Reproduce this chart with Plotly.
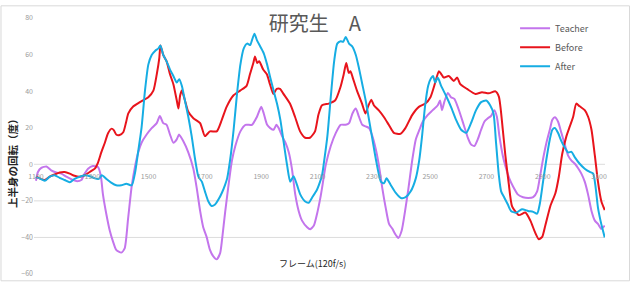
import plotly.graph_objects as go

# ---- data (frame number, rotation in degrees) ----
teacher_f = [1100, 1107, 1119, 1137, 1154, 1172, 1190, 1208, 1225, 1243, 1261, 1273, 1285, 1302, 1320, 1330,
             1338, 1350, 1362, 1374, 1385, 1403, 1415, 1427, 1440, 1452, 1463, 1475, 1493, 1511, 1529, 1540,
             1552, 1564, 1576, 1588, 1600, 1608, 1623, 1641, 1659, 1671, 1683, 1694, 1706, 1718, 1730, 1742,
             1754, 1761, 1772, 1785, 1796, 1808, 1826, 1844, 1867, 1885, 1900, 1909, 1921, 1932, 1944, 1954,
             1962, 1974, 1986, 1998, 2009, 2021, 2033, 2045, 2063, 2074, 2087, 2098, 2110, 2117, 2129, 2147,
             2165, 2182, 2200, 2212, 2224, 2236, 2247, 2259, 2271, 2283, 2293, 2307, 2318, 2330, 2342, 2354,
             2366, 2375, 2387, 2399, 2411, 2423, 2437, 2449, 2462, 2474, 2491, 2509, 2527, 2535, 2542, 2550,
             2563, 2574, 2586, 2598, 2610, 2621, 2634, 2645, 2657, 2669, 2681, 2693, 2705, 2716, 2728, 2737,
             2746, 2758, 2770, 2781, 2794, 2812, 2830, 2848, 2866, 2880, 2889, 2901, 2913, 2925, 2934, 2943,
             2954, 2966, 2978, 2990, 3002, 3014, 3025, 3037, 3049, 3061, 3073, 3085, 3096, 3108, 3120]
teacher_v = [-9, -4.2, -2, -1.2, -3.3, -4.5, -5.1, -6.8, -8.1, -9.2, -8.6, -5.1, -2.4, -1, -1.5, -6,
             -16.6, -27.3, -36.2, -42.4, -46.8, -48.3, -46, -30, -12, -1, 6.5, 11.8, 16.3, 19.8, 22.5, 26.4,
             22.5, 21.6, 16.3, 11.8, 13.6, 16.3, 12.7, 6.5, -2.4, -13, -25.5, -34.4, -39.7, -46.8, -50.4, -52,
             -48.6, -41, -26, -10, 2, 10, 18, 21.6, 21.6, 26, 31.4, 27.8, 21.6, 19.8, 18.9, 21.6,
             19.8, 15.4, 11.8, 6.5, -2.4, -16.6, -25.5, -30.8, -34.4, -35.5, -33.5, -27.3, -18.4, -12, -0.6, 10,
             17.2, 21.6, 21.6, 22.5, 27.8, 30.5, 26, 21.6, 20.7, 19.8, 16.3, 8.3, -0.6, -13, -23.7, -32.6,
             -35.3, -37.9, -40.3, -36.2, -25.5, -13, 2.9, 13.6, 18.9, 23.4, 26.9, 29.6, 32.3, 34.9, 29.6, 34,
             39, 36.7, 35.8, 31.4, 26, 20.7, 14.5, 10.9, 10, 13.6, 18.9, 23.4, 25.2, 26.4, 29.6, 26,
             15.4, 4.7, -2.4, -7.7, -12, -16.6, -18, -18.4, -18, -14.8, -7.7, 2.9, 11.8, 18.9, 24.3, 25.7,
             23.4, 17.2, 10.9, 4.7, 2, 0.3, -2, -5.1, -9.5, -16.6, -25.5, -30.8, -32.6, -35.3, -33.5]

before_f = [1100, 1113, 1131, 1149, 1166, 1184, 1202, 1220, 1237, 1255, 1273, 1291, 1309, 1320, 1332, 1344,
            1356, 1369, 1377, 1385, 1397, 1410, 1420, 1428, 1446, 1469, 1499, 1517, 1529, 1538, 1542, 1552,
            1564, 1576, 1588, 1600, 1606, 1612, 1618, 1629, 1641, 1659, 1683, 1700, 1718, 1742, 1760, 1777,
            1801, 1825, 1848, 1860, 1872, 1878, 1886, 1893, 1907, 1920, 1931, 1943, 1955, 1967, 1979, 2002,
            2020, 2038, 2056, 2073, 2091, 2103, 2116, 2140, 2163, 2181, 2193, 2202, 2211, 2217, 2225, 2240,
            2258, 2270, 2279, 2291, 2300, 2317, 2335, 2353, 2371, 2394, 2412, 2436, 2460, 2483, 2501, 2518,
            2531, 2540, 2548, 2566, 2584, 2596, 2607, 2631, 2661, 2684, 2708, 2732, 2744, 2758, 2767, 2779,
            2791, 2815, 2838, 2856, 2872, 2886, 2898, 2909, 2927, 2945, 2957, 2969, 2984, 2996, 3008, 3019,
            3031, 3049, 3061, 3073, 3085, 3096, 3108, 3120]
before_v = [-6.8, -7.7, -8.6, -6.8, -5.6, -4.5, -4.2, -5.1, -6.3, -6.8, -6, -4.2, -2.4, 0.8, 6.5, 11.5,
            17, 19.5, 18.5, 16.3, 16, 17.5, 23, 27.8, 31.7, 34, 36.7, 40.3, 49.2, 58, 65, 59.8,
            56.3, 49.2, 43.8, 35, 30.5, 37.6, 40.3, 35, 28.7, 25.2, 22.5, 15.4, 18, 18, 24.3, 31.4,
            37.6, 40.3, 42.9, 49.2, 55.4, 58.9, 55.4, 56.3, 51.8, 49.2, 43.8, 38.5, 41.2, 41.2, 38.5, 33.2,
            26, 18, 14.5, 14.5, 18, 27, 32.3, 33.2, 35, 42, 49.2, 55.4, 50, 50.9, 47.4, 40.3,
            33.2, 27.8, 31.4, 35.3, 32.3, 29.6, 26, 21.6, 17.2, 16.6, 19.8, 26.9, 31.4, 33.2, 36.7, 44.7,
            50.9, 49.2, 47.4, 48.3, 45.6, 47.4, 43.8, 41.2, 38.5, 39.4, 38.8, 39.9, 37, 19, 5, -10.4,
            -23, -27.8, -26.4, -30.8, -37, -41, -39.7, -33.5, -22.8, -15.7, -6.8, 5.6, 15.4, 20.7, 26, 33.2,
            31.7, 29.6, 26, 18.9, 4.7, -9.5, -20.2, -25]

after_f = [1100, 1113, 1131, 1149, 1166, 1184, 1202, 1220, 1237, 1255, 1273, 1291, 1309, 1323, 1334, 1350,
           1367, 1385, 1403, 1421, 1440, 1452, 1463, 1475, 1487, 1499, 1511, 1523, 1535, 1542, 1552, 1564,
           1576, 1588, 1600, 1609, 1618, 1629, 1641, 1653, 1665, 1677, 1689, 1700, 1712, 1724, 1736, 1748,
           1760, 1771, 1779, 1790, 1802, 1814, 1826, 1838, 1850, 1861, 1867, 1876, 1885, 1897, 1909, 1921,
           1932, 1944, 1956, 1968, 1980, 1992, 2003, 2015, 2027, 2039, 2055, 2069, 2080, 2098, 2105, 2116,
           2123, 2135, 2147, 2159, 2170, 2182, 2191, 2200, 2212, 2224, 2236, 2247, 2259, 2271, 2283, 2295,
           2307, 2325, 2336, 2345, 2360, 2378, 2396, 2413, 2431, 2449, 2461, 2471, 2482, 2493, 2503, 2510,
           2518, 2527, 2539, 2556, 2574, 2592, 2610, 2628, 2645, 2663, 2681, 2699, 2713, 2725, 2734, 2744,
           2752, 2764, 2776, 2787, 2805, 2826, 2848, 2866, 2880, 2889, 2901, 2913, 2925, 2934, 2943, 2954,
           2966, 2978, 2990, 3002, 3014, 3031, 3049, 3067, 3079, 3088, 3096, 3105, 3112, 3120]
after_v = [-7, -7.7, -9, -6.8, -6, -7.4, -8.6, -9.8, -8, -6.8, -6, -6.5, -7.7, -8, -6, -8,
           -10, -11.5, -11.5, -10.6, -11.5, -4.5, 7, 20, 40, 54.5, 59.8, 62, 63.4, 65, 59.8, 56.3,
           51.8, 48.3, 44.7, 46.5, 42.9, 34.9, 26, 15.4, 2.9, -6.8, -9.5, -14.8, -20.2, -22.8, -22, -19.3,
           -15.7, -11.5, -7.7, 2.9, 18.9, 38.5, 54.5, 63.4, 66, 65.2, 67.8, 71.4, 67.8, 64.3, 60.7, 54.5,
           47.4, 40.3, 33.2, 24.3, 11.8, -0.6, -9.5, -6.5, -11.3, -16.6, -20.2, -21, -18.4, -13.9, -11.3, -6,
           1.2, 15.4, 36.7, 56.3, 66, 67.3, 67, 69.6, 66, 64.3, 59.8, 52.7, 43.8, 34.9, 24.3, 13.6,
           2.9, -9.5, -10.4, -7.7, -11.3, -15.7, -18.4, -18, -14.8, -7.7, 2, 15, 32, 43, 47, 48.3,
           44.7, 47.4, 42.9, 37.6, 31.4, 24.3, 18.9, 17.2, 22.5, 29.6, 34, 34.9, 32.3, 27.8, 11.8, -6,
           -14.8, -18.4, -22, -25.5, -26.5, -24.6, -25.5, -26, -27, -22, -9.5, 2.9, 13.6, 18.9, 19.8, 17.2,
           12.7, 9.2, 6.5, 6.8, 3.8, 0.3, -2.4, -4.2, -5.1, -13, -23.7, -30.8, -35.3, -40]

x_ticks = [1100, 1300, 1500, 1700, 1900, 2100, 2300, 2500, 2700, 2900, 3100]
y_ticks = [-60, -40, -20, 0, 20, 40, 60, 80]
grid_vals = [0, -20, -40]

FONT = "Noto Sans CJK JP"

fig = go.Figure()
series = [("Teacher", teacher_f, teacher_v, "#C375EC"),
          ("Before", before_f, before_v, "#E8141C"),
          ("After", after_f, after_v, "#16ADE3")]
for name, xs, ys, col in series:
    fig.add_trace(go.Scatter(x=xs, y=ys, mode="lines", name=name,
                             line=dict(color=col, width=2, shape="spline", smoothing=0.6)))

shapes = []
for g in grid_vals:
    shapes.append(dict(type="line", xref="paper", yref="y", x0=0, x1=1, y0=g, y1=g,
                       line=dict(color="#dcdcdc", width=1), layer="below"))
shapes.append(dict(type="rect", xref="paper", yref="paper", x0=-0.0578, x1=1.0429,
                   y0=-0.0266, y1=1.0475, line=dict(color="#d9d9d9", width=1)))

fig.update_layout(
    width=632, height=290,
    margin=dict(l=34, r=27, t=15, b=12),
    paper_bgcolor="white", plot_bgcolor="white",
    font=dict(family=FONT, color="#595959"),
    title=dict(text="研究生　A", font=dict(size=20, color="#595959", family=FONT),
               xref="paper", x=0.492, xanchor="center", yref="container", y=0.917, yanchor="middle"),
    xaxis=dict(range=[1093, 3121], tickvals=x_ticks, ticktext=[str(v) for v in x_ticks],
               anchor="free", position=60 / 140, showgrid=False, zeroline=False, showline=False,
               ticks="outside", ticklen=5, tickcolor="rgba(0,0,0,0)",
               tickfont=dict(size=7, color="#9a9a9a")),
    yaxis=dict(range=[-60, 80], tickvals=y_ticks, showgrid=False, zeroline=False, showline=False,
               ticks="", tickfont=dict(size=7, color="#9a9a9a")),
    legend=dict(x=0.8425, y=1.017, xanchor="left", yanchor="top", bgcolor="rgba(0,0,0,0)",
                font=dict(size=9, color="#595959"), itemwidth=30),
    shapes=shapes,
    annotations=[
        dict(text="フレーム(120f/s)", xref="paper", yref="paper", x=0.487, y=0.042,
             xanchor="center", yanchor="middle", showarrow=False,
             font=dict(size=9, color="#262626", family=FONT)),
        dict(text="<b>上半身の回転（度）</b>", xref="paper", yref="paper", x=-0.0385, y=0.441,
             xanchor="center", yanchor="middle", textangle=-90, showarrow=False,
             font=dict(size=10.5, color="#262626", family=FONT)),
    ],
)

fig.write_html("out.html")
